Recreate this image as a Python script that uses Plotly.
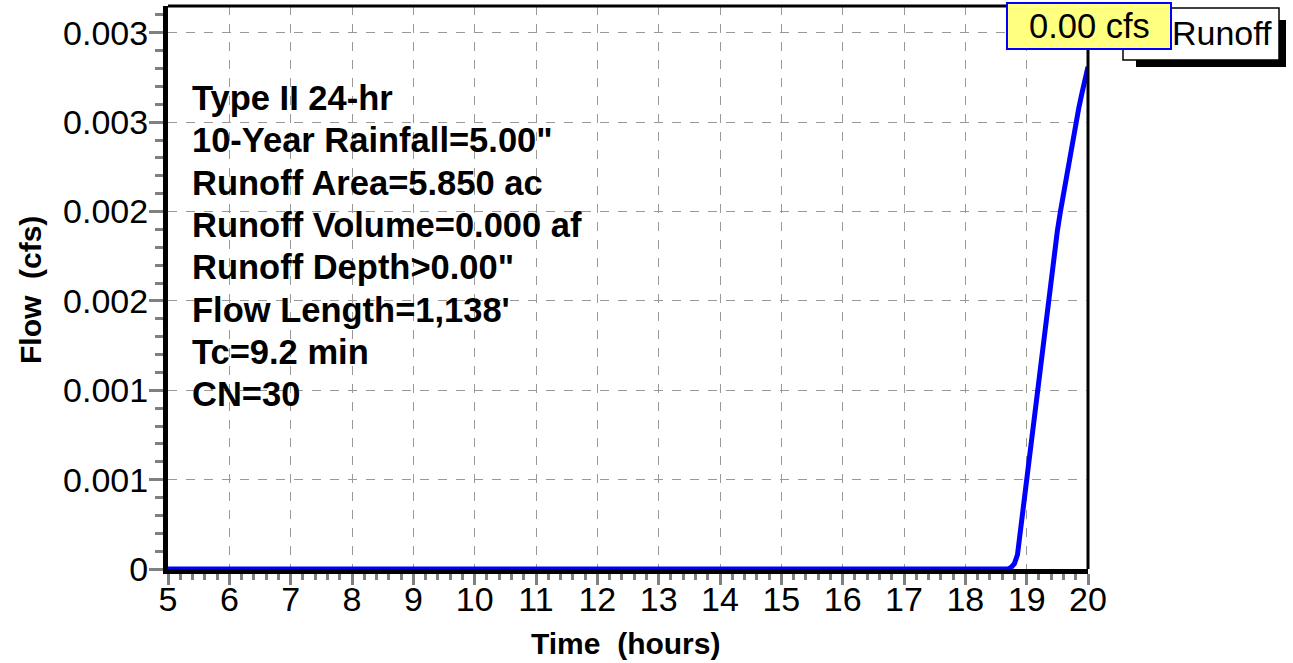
import plotly.graph_objects as go

# ---- data ----
time_hours = [5.0, 18.70, 18.75, 18.80, 18.85, 18.90, 18.95, 19.00, 19.05, 19.10,
              19.15, 19.20, 19.25, 19.30, 19.35, 19.40, 19.45, 19.50, 19.55,
              19.60, 19.65, 19.70, 19.75, 19.80, 19.85, 19.90, 19.95, 20.00]
flow_cfs = [0.0, 0.0, 0.00001, 0.00003, 0.00008, 0.00022, 0.00036, 0.00051, 0.00065, 0.00080,
            0.00094, 0.00109, 0.00123, 0.00138, 0.00152, 0.00165, 0.00177, 0.00189, 0.00200,
            0.00210, 0.00221, 0.00231, 0.00241, 0.00250, 0.00258, 0.00266, 0.00274, 0.00281]

x_ticks = list(range(5, 21))
y_tickvals = [0, 0.0005, 0.001, 0.0015, 0.002, 0.0025, 0.003]
y_ticktext = ["0", "0.001", "0.001", "0.002", "0.002", "0.003", "0.003"]

info_lines = ["Type II 24-hr", "10-Year Rainfall=5.00\"", "Runoff Area=5.850 ac",
              "Runoff Volume=0.000 af", "Runoff Depth>0.00\"", "Flow Length=1,138'",
              "Tc=9.2 min", "CN=30"]
series_name = "Runoff"
peak_label = "0.00 cfs"
x_title = "Time  (hours)"
y_title = "Flow  (cfs)"

FONT = "Liberation Sans, Arial, sans-serif"
W, H = 1293, 663
L, R, T, B = 168, 205, 6, 94
PW, PH = W - L - R, H - T - B


def px(x):
    return (x - L) / PW


def py(y):
    return (H - B - y) / PH


fig = go.Figure()
fig.add_trace(go.Scatter(x=time_hours, y=flow_cfs, mode="lines", name=series_name,
                         line=dict(color="#0000FF", width=5), showlegend=False))

fig.update_layout(
    width=W, height=H,
    margin=dict(l=L, r=R, t=T, b=B, pad=0),
    paper_bgcolor="white", plot_bgcolor="white",
    font=dict(family=FONT, color="black"),
    xaxis=dict(range=[5, 20], tickmode="array", tickvals=x_ticks,
               tickfont=dict(size=34, family=FONT, color="black"),
               showgrid=True, gridcolor="#999999", griddash="dash", gridwidth=1,
               ticks="outside", ticklen=11, tickwidth=3, tickcolor="#808080",
               ticklabelstandoff=-15,
               minor=dict(tick0=5, dtick=0.2, ticks="outside", ticklen=6, tickwidth=3,
                          tickcolor="#808080", showgrid=False),
               showline=True, linecolor="black", linewidth=5, zeroline=False),
    yaxis=dict(range=[0, 0.00315], tickmode="array", tickvals=y_tickvals, ticktext=y_ticktext,
               tickfont=dict(size=34, family=FONT, color="black"),
               showgrid=True, gridcolor="#999999", griddash="dash", gridwidth=1,
               ticks="outside", ticklen=14, tickwidth=3, tickcolor="#808080",
               ticklabelstandoff=-6,
               minor=dict(tick0=0, dtick=0.0001, ticks="outside", ticklen=8, tickwidth=3,
                          tickcolor="#808080", showgrid=False),
               showline=True, linecolor="black", linewidth=5, zeroline=False),
)

shapes = [
    # top and right frame
    dict(type="line", xref="paper", yref="paper", x0=0, x1=1, y0=1, y1=1,
         line=dict(color="black", width=3)),
    dict(type="line", xref="paper", yref="paper", x0=1, x1=1, y0=0, y1=1,
         line=dict(color="black", width=3)),
    # legend shadow
    dict(type="rect", xref="paper", yref="paper", x0=px(1136), x1=px(1286), y0=py(67), y1=py(20),
         fillcolor="black", line=dict(width=0), layer="above"),
    # legend box
    dict(type="rect", xref="paper", yref="paper", x0=px(1123), x1=px(1279), y0=py(60), y1=py(8),
         fillcolor="white", line=dict(color="black", width=1.5), layer="above"),
    # peak label box
    dict(type="rect", xref="paper", yref="paper", x0=px(1007), x1=px(1171), y0=py(49), y1=py(3),
         fillcolor="#FFFF80", line=dict(color="#0000FF", width=2), layer="above"),
]
fig.update_layout(shapes=shapes)

ann = []
for i, line in enumerate(info_lines):
    ann.append(dict(x=px(190), y=py(98 + i * 42.3), xref="paper", yref="paper",
                    xanchor="left", yanchor="middle", showarrow=False,
                    text="<b>" + line + "</b>", font=dict(size=34.5, family=FONT, color="black")))
ann.append(dict(x=px(1089), y=py(26), xref="paper", yref="paper", xanchor="center", yanchor="middle",
                showarrow=False, text=peak_label, font=dict(size=34.5, family=FONT, color="black")))
ann.append(dict(x=px(1170), y=py(33), xref="paper", yref="paper", xanchor="left", yanchor="middle",
                showarrow=False, text=series_name, font=dict(size=34, family=FONT, color="black")))
ann.append(dict(x=px(625), y=py(643), xref="paper", yref="paper", xanchor="center", yanchor="middle",
                showarrow=False, text="<b>" + x_title + "</b>", font=dict(size=30, family=FONT, color="black")))
ann.append(dict(x=px(30), y=py(290), xref="paper", yref="paper", xanchor="center", yanchor="middle",
                showarrow=False, textangle=-90, text="<b>" + y_title + "</b>",
                font=dict(size=30, family=FONT, color="black")))
fig.update_layout(annotations=ann)

fig.write_html("out.html", config={"displayModeBar": False},
               post_script="document.body.style.margin='0';document.body.style.overflow='hidden';")
